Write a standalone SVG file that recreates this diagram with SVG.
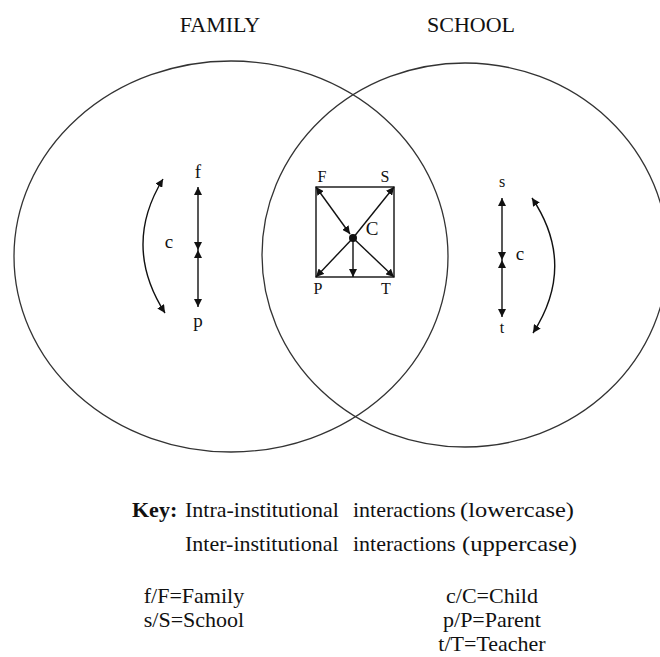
<svg xmlns="http://www.w3.org/2000/svg" width="660" height="657" viewBox="0 0 660 657">
<style>
text{font-family:"Liberation Serif","Times New Roman",serif;fill:#111}
.t{font-size:22px}
.lab{font-size:19px}
.sm{font-size:16px}
.ring{fill:none;stroke:#333;stroke-width:1.3}
.ln{fill:none;stroke:#111;stroke-width:1.4}
</style>
<defs>
<marker id="ahb" viewBox="0 0 10 10" refX="10" refY="5" markerWidth="8" markerHeight="8" markerUnits="userSpaceOnUse" orient="auto-start-reverse">
<path d="M0,0 L10,5 L0,10 z" fill="#111"/>
</marker>
</defs>
<rect width="660" height="657" fill="#fff"/>
<g id="titles">
<text class="t" x="220" y="32" text-anchor="middle">FAMILY</text>
<text class="t" x="471" y="32" text-anchor="middle">SCHOOL</text>
</g>
<g id="family">
<ellipse class="ring" cx="231" cy="256.5" rx="217" ry="195.5"/>
</g>
<g id="school">
<ellipse class="ring" cx="465" cy="255" rx="203" ry="192"/>
</g>
<g id="interaction-box">
<rect x="316" y="187" width="78" height="90" fill="none" stroke="#111" stroke-width="1.4"/>
<circle cx="353" cy="238" r="4" fill="#111"/>
</g>
<g id="connectors">
<line class="ln" x1="198" y1="250" x2="198" y2="187" marker-start="url(#ahb)" marker-end="url(#ahb)"/>
<line class="ln" x1="198" y1="250" x2="198" y2="307" marker-start="url(#ahb)" marker-end="url(#ahb)"/>
<path class="ln" d="M163,179 Q122,246 165,313" marker-start="url(#ahb)" marker-end="url(#ahb)"/>
<line class="ln" x1="502" y1="260" x2="502" y2="198" marker-start="url(#ahb)" marker-end="url(#ahb)"/>
<line class="ln" x1="502" y1="260" x2="502" y2="317" marker-start="url(#ahb)" marker-end="url(#ahb)"/>
<path class="ln" d="M532,198 Q577,265 533,333" marker-start="url(#ahb)" marker-end="url(#ahb)"/>
<line class="ln" x1="350" y1="234" x2="316" y2="187" marker-start="url(#ahb)" marker-end="url(#ahb)"/>
<line class="ln" x1="353" y1="238" x2="394" y2="187" marker-end="url(#ahb)"/>
<line class="ln" x1="353" y1="238" x2="316" y2="277" marker-end="url(#ahb)"/>
<line class="ln" x1="353" y1="238" x2="394" y2="277" marker-end="url(#ahb)"/>
<line class="ln" x1="353" y1="238" x2="353" y2="277" marker-end="url(#ahb)"/>
</g>
<g id="labels">
<text class="lab" x="198" y="178" text-anchor="middle">f</text>
<text class="lab" x="169" y="248" text-anchor="middle">c</text>
<text class="lab" x="198" y="327" text-anchor="middle">p</text>
<text class="sm" x="502" y="187" text-anchor="middle">s</text>
<text class="lab" x="520" y="260" text-anchor="middle">c</text>
<text class="sm" x="502" y="333" text-anchor="middle">t</text>
<text class="sm" x="322" y="182" text-anchor="middle">F</text>
<text class="sm" x="385" y="182" text-anchor="middle">S</text>
<text class="lab" x="372" y="235" text-anchor="middle">C</text>
<text class="sm" x="318" y="294" text-anchor="middle">P</text>
<text class="sm" x="386" y="294" text-anchor="middle">T</text>
</g>
<g id="key">
<text class="t" x="132" y="517" font-weight="bold">Key:</text>
<text class="t" x="185" y="517">Intra-institutional</text>
<text class="t" x="353" y="517">interactions</text>
<text class="t" x="460" y="517" textLength="114" lengthAdjust="spacingAndGlyphs">(lowercase)</text>
<text class="t" x="185" y="551">Inter-institutional</text>
<text class="t" x="353" y="551">interactions</text>
<text class="t" x="462" y="551" textLength="115" lengthAdjust="spacingAndGlyphs">(uppercase)</text>
<text class="t" x="194" y="603" text-anchor="middle">f/F=Family</text>
<text class="t" x="194" y="627" text-anchor="middle">s/S=School</text>
<text class="t" x="492" y="603" text-anchor="middle">c/C=Child</text>
<text class="t" x="492" y="627" text-anchor="middle">p/P=Parent</text>
<text class="t" x="492" y="651" text-anchor="middle">t/T=Teacher</text>
</g>
</svg>
